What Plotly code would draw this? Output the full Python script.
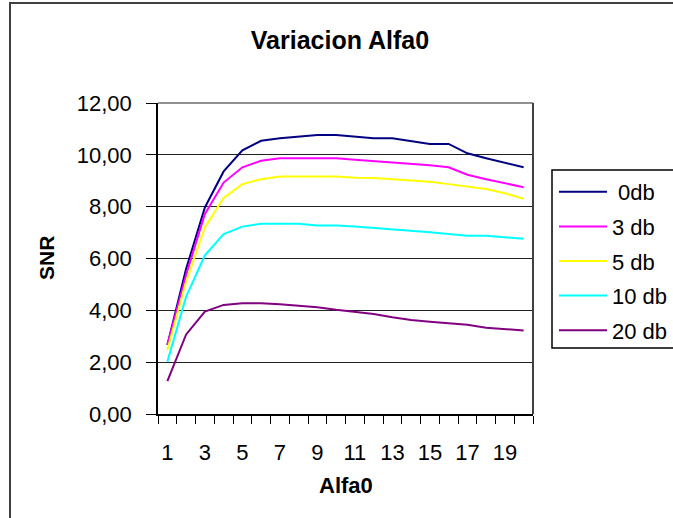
import plotly.graph_objects as go

alfa0 = list(range(1, 21))
series_names = ["\u00a00db", "3 db", "5 db", "10 db", "20 db"]
snr_0db = [2.66, 5.60, 7.97, 9.36, 10.17, 10.54, 10.64, 10.71, 10.77, 10.77,
           10.71, 10.64, 10.64, 10.53, 10.42, 10.42, 10.06, 9.87, 9.70, 9.52]
snr_3db = [2.66, 5.37, 7.72, 8.93, 9.52, 9.77, 9.87, 9.87, 9.87, 9.87,
           9.81, 9.76, 9.70, 9.65, 9.60, 9.52, 9.23, 9.06, 8.91, 8.75]
snr_5db = [2.47, 5.11, 7.20, 8.34, 8.87, 9.06, 9.16, 9.16, 9.16, 9.16,
           9.12, 9.11, 9.06, 9.01, 8.96, 8.87, 8.78, 8.68, 8.52, 8.30]
snr_10db = [2.02, 4.53, 6.12, 6.94, 7.23, 7.34, 7.34, 7.34, 7.27, 7.27,
            7.23, 7.18, 7.13, 7.08, 7.01, 6.95, 6.88, 6.88, 6.82, 6.76]
snr_20db = [1.27, 3.07, 3.95, 4.21, 4.27, 4.27, 4.23, 4.18, 4.12, 4.02,
            3.94, 3.86, 3.73, 3.63, 3.56, 3.50, 3.44, 3.33, 3.27, 3.22]
y_tickvals = [0, 2, 4, 6, 8, 10, 12]
y_ticktext = ["0,00", "2,00", "4,00", "6,00", "8,00", "10,00", "12,00"]
x_tickvals = [1, 3, 5, 7, 9, 11, 13, 15, 17, 19]

colors = ["#000080", "#FF00FF", "#FFFF00", "#00FFFF", "#800080"]
all_series = [snr_0db, snr_3db, snr_5db, snr_10db, snr_20db]

FONT = "Liberation Sans, Arial, sans-serif"
W, H = 673, 518
L, R, T, B = 158, 140, 103, 104
PW, PH = W - L - R, H - T - B

def px_x(X):
    return (X - L) / PW

def px_y(Y):
    return (H - B - Y) / PH

fig = go.Figure()
for i, (name, vals) in enumerate(zip(series_names, all_series)):
    fig.add_trace(go.Scatter(
        x=alfa0, y=vals, mode="lines", name=name,
        line=dict(color=colors[i], width=2),
        legendgroup=str(i),
    ))

boundaries = [k - 0.5 for k in alfa0] + [alfa0[-1] + 0.5]

fig.update_layout(
    width=W, height=H,
    margin=dict(l=L, r=R, t=T, b=B, autoexpand=False),
    paper_bgcolor="white", plot_bgcolor="white",
    font=dict(family=FONT, color="black"),
    title=dict(text="<b>Variacion Alfa0</b>", x=340 / W, xanchor="center",
               y=1 - 40 / H, yanchor="middle", font=dict(size=25, family=FONT)),
    showlegend=True,
    legend=dict(x=px_x(554), y=px_y(171), xanchor="left", yanchor="top",
                borderwidth=0, bgcolor="rgba(0,0,0,0)", itemwidth=48,
                font=dict(size=22, family=FONT), tracegroupgap=3),
    xaxis=dict(range=[0.5, 20.5], tickmode="array", tickvals=x_tickvals,
               ticks="", showgrid=False, zeroline=False,
               showline=True, linecolor="black", linewidth=1.5,
               tickfont=dict(size=22, family=FONT),
               ticklabelstandoff=18,
               minor=dict(tickmode="array", tickvals=boundaries, ticks="outside",
                          ticklen=8, tickcolor="black", tickwidth=1, showgrid=False)),
    yaxis=dict(range=[0, 12], tickmode="array", tickvals=y_tickvals, ticktext=y_ticktext,
               ticks="outside", ticklen=10, tickcolor="black",
               ticklabelstandoff=10,
               showgrid=True, gridcolor="#222222", gridwidth=1, zeroline=False,
               showline=True, linecolor="black", linewidth=1.5,
               tickfont=dict(size=22, family=FONT)),
    annotations=[
        dict(text="<b>SNR</b>", x=px_x(46), y=px_y(258), xref="paper", yref="paper",
             textangle=-90, showarrow=False, font=dict(size=21, family=FONT),
             xanchor="center", yanchor="middle"),
        dict(text="<b>Alfa0</b>", x=0.5, y=px_y(485), xref="paper", yref="paper",
             showarrow=False, font=dict(size=22, family=FONT),
             xanchor="center", yanchor="middle"),
    ],
    shapes=[
        dict(type="line", xref="paper", yref="paper", x0=0, x1=1, y0=1, y1=1,
             line=dict(color="#909090", width=2)),
        dict(type="line", xref="paper", yref="paper", x0=1, x1=1, y0=0, y1=1,
             line=dict(color="#404040", width=2)),
        dict(type="rect", xref="paper", yref="paper", x0=px_x(10), x1=px_x(720),
             y0=px_y(540), y1=px_y(3), line=dict(color="#404040", width=2),
             layer="below"),
        dict(type="rect", xref="paper", yref="paper", x0=px_x(552), x1=px_x(720),
             y0=px_y(348), y1=px_y(170), line=dict(color="black", width=1.5),
             fillcolor="white", layer="below"),
    ],
)

fig.write_html("out.html")
